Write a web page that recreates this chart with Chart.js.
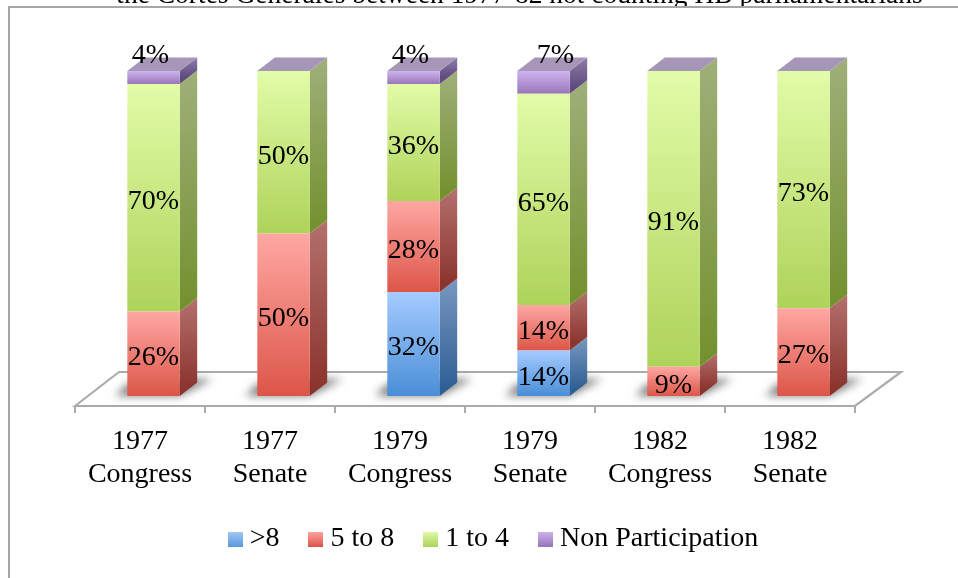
<!DOCTYPE html>
<html><head><meta charset="utf-8">
<style>html,body{margin:0;padding:0;background:#fff;overflow:hidden}canvas{display:block}</style>
<script src="https://cdn.jsdelivr.net/npm/chart.js@4"></script>
</head><body><canvas id="c" width="958" height="578"></canvas>
<script>
const captionText = 'the Cortes Generales between 1977-82 not counting HB parliamentarians';
const categories = [['1977','Congress'],['1977','Senate'],['1979','Congress'],['1979','Senate'],['1982','Congress'],['1982','Senate']];
const seriesNames = ['>8','5 to 8','1 to 4','Non Participation'];
const over8 = [0,0,32,14,0,0];
const fiveTo8 = [26,50,28,14,9,27];
const oneTo4 = [70,50,36,65,91,73];
const nonPart = [4,0,4,7,0,0];
const seriesValues = [over8,fiveTo8,oneTo4,nonPart];

const FONT = '"Liberation Serif", serif';
const DX = 17.5, DY = 13.5;
const palette = [
  {f:['#a5cbff','#4a8ed6'], s:['#7898c0','#2e5f94'], l:['#a3c8f5','#5a9ade']},
  {f:['#ffa7a3','#dc5648'], s:['#b4716d','#8b332d'], l:['#ffa7a3','#dc5648']},
  {f:['#e2fca8','#aed35a'], s:['#9fb07a','#74912f'], l:['#e2fca8','#aed35a']},
  {f:['#cdb5ee','#9975b8'], s:['#8f7ca9','#5f4a7d'], l:['#cdb5ee','#9975b8']}
];
const TOP_FACE = '#a696b8';
const labelNudge = {'3,0':[-3,-22],'3,2':[-3,-22],'3,3':[12,-27]};

function grad(ctx,y0,y1,c){const g=ctx.createLinearGradient(0,y0,0,y1);g.addColorStop(0,c[0]);g.addColorStop(1,c[1]);return g;}
function swatch(c){
  const k=document.createElement('canvas');k.width=15;k.height=15;
  const x=k.getContext('2d');x.fillStyle=grad(x,0,15,c);x.fillRect(0,0,15,15);return k;
}

const scene = {
  id:'scene',
  afterLayout(chart){ chart.legend.left+=18; chart.legend.right+=18; },
  beforeDraw(chart){
    const {ctx,scales:{x,y:yScale}}=chart;
    ctx.save();
    ctx.fillStyle='#fff';ctx.fillRect(0,0,958,578);
    // caption, cropped by the top of the picture and by the frame
    ctx.save();
    ctx.beginPath();ctx.rect(0,0,958,6);ctx.clip();
    ctx.fillStyle='#000';ctx.font='27.5px '+FONT;ctx.textAlign='center';ctx.textBaseline='alphabetic';
    ctx.fillText(captionText,519.5,2.5);
    ctx.restore();
    // frame
    ctx.strokeStyle='#a6a6a6';ctx.lineWidth=2;
    ctx.beginPath();ctx.moveTo(9,578);ctx.lineTo(9,7);ctx.lineTo(958,7);ctx.stroke();
    // floor
    const step=x.getPixelForTick(1)-x.getPixelForTick(0);
    const left=x.getPixelForTick(0)-step/2-DX+4, right=x.getPixelForTick(categories.length-1)+step/2-DX+4;
    const fy=406;
    ctx.lineWidth=2.2;ctx.strokeStyle='#ababab';
    ctx.beginPath();ctx.moveTo(left,fy);ctx.lineTo(left+44,372);ctx.lineTo(right+46,372);ctx.lineTo(right,fy);ctx.closePath();ctx.stroke();
    ctx.lineWidth=2;
    for(let i=0;i<=categories.length;i++){const px=Math.round(left+i*step);ctx.beginPath();ctx.moveTo(px,fy);ctx.lineTo(px,fy+7);ctx.stroke();}
    // bar shadows on the floor
    const y=yScale.getPixelForValue(0);
    chart.getDatasetMeta(1).data.forEach(b=>{
      const l=b.x-b.width/2,r=b.x+b.width/2;
      ctx.save();
      ctx.filter='blur(4px)';ctx.fillStyle='rgba(70,70,70,.7)';
      ctx.beginPath();ctx.moveTo(l-12,y);ctx.lineTo(r,y);ctx.lineTo(r+33,y-17);ctx.lineTo(r+10,y-17);ctx.lineTo(l,y-12);ctx.closePath();ctx.fill();
      ctx.restore();
    });
    ctx.restore();
  },
  beforeDatasetsDraw(chart){
    const {ctx}=chart;
    ctx.save();
    chart.data.datasets.forEach((ds,di)=>{
      chart.getDatasetMeta(di).data.forEach((b,i)=>{
        if(!seriesValues[di][i])return;
        const r=b.x+b.width/2, t=b.y, bt=b.base;
        ctx.fillStyle=grad(ctx,t-DY,bt-DY/2,palette[di].s);
        ctx.beginPath();ctx.moveTo(r,t);ctx.lineTo(r+DX,t-DY);ctx.lineTo(r+DX,bt-DY);ctx.lineTo(r,bt);ctx.closePath();ctx.fill();
      });
    });
    // top face of each column
    const m=chart.getDatasetMeta(0);
    const yTop=chart.scales.y.getPixelForValue(100);
    m.data.forEach(b=>{
      const l=b.x-b.width/2,r=b.x+b.width/2;
      ctx.fillStyle=TOP_FACE;
      ctx.beginPath();ctx.moveTo(l,yTop);ctx.lineTo(l+DX,yTop-DY);ctx.lineTo(r+DX,yTop-DY);ctx.lineTo(r,yTop);ctx.closePath();ctx.fill();
    });
    ctx.restore();
  },
  afterDatasetsDraw(chart){
    const {ctx}=chart;
    ctx.save();
    ctx.fillStyle='#000';ctx.font='28px '+FONT;ctx.textAlign='center';ctx.textBaseline='middle';
    chart.data.datasets.forEach((ds,di)=>{
      chart.getDatasetMeta(di).data.forEach((b,i)=>{
        const v=seriesValues[di][i];
        if(!v)return;
        const n=labelNudge[di+','+i]||[0,4];
        ctx.fillText(v+'%',b.x+n[0],(b.y+b.base)/2+n[1]);
      });
    });
    ctx.restore();
  }
};

new Chart(document.getElementById('c'),{
  type:'bar',
  data:{
    labels:categories,
    datasets:seriesNames.map((name,di)=>({
      label:name,
      data:seriesValues[di],
      barPercentage:1,
      categoryPercentage:0.403,
      backgroundColor(c){
        const ch=c.chart;
        if(!ch.chartArea||c.dataIndex===undefined)return palette[di].f[0];
        const y=ch.scales.y;let base=0;
        for(let k=0;k<di;k++)base+=seriesValues[k][c.dataIndex];
        const t=base+seriesValues[di][c.dataIndex];
        return grad(ch.ctx,y.getPixelForValue(t),y.getPixelForValue(base),palette[di].f);
      }
    }))
  },
  plugins:[scene],
  options:{
    responsive:false,animation:false,
    layout:{padding:{left:88.5,right:89.5,top:71,bottom:15}},
    scales:{
      x:{stacked:true,grid:{display:false},border:{display:false},
         afterFit(s){s.height=93;},
         ticks:{color:'#000',font:{family:FONT,size:28,lineHeight:1.15},padding:22,labelOffset:-13.5,maxRotation:0,minRotation:0,autoSkip:false}},
      y:{stacked:true,display:false,min:0,max:100}
    },
    plugins:{
      tooltip:{enabled:false},
      legend:{
        position:'bottom',
        labels:{
          color:'#000',font:{family:FONT,size:28},usePointStyle:true,pointStyleWidth:1,boxHeight:15,padding:36,
          generateLabels(){
            return seriesNames.map((n,di)=>({
              text:n,datasetIndex:di,lineWidth:0,strokeStyle:'rgba(0,0,0,0)',
              fillStyle:palette[di].l[0],pointStyle:swatch(palette[di].l)
            }));
          }
        }
      }
    }
  }
});
</script></body></html>
